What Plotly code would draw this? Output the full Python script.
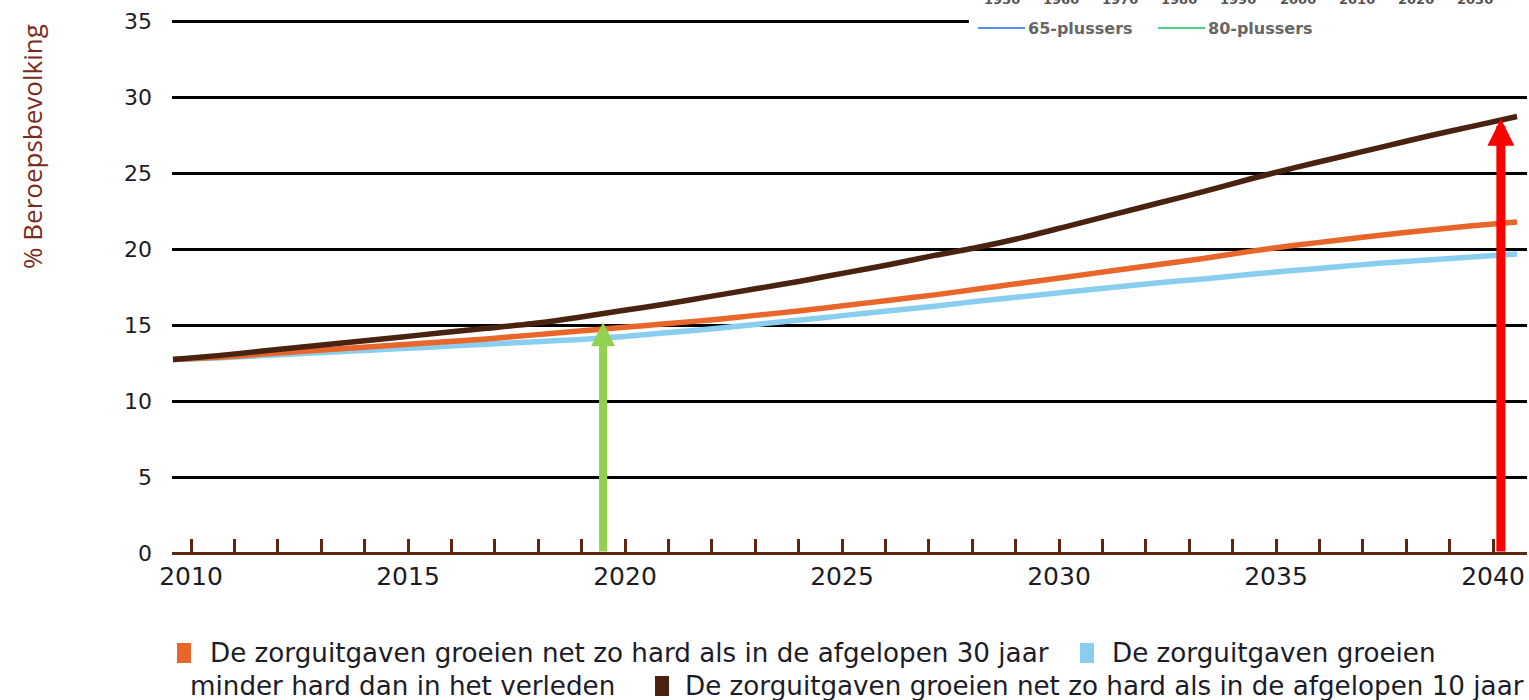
import plotly.graph_objects as go

# ---- data -------------------------------------------------------------
YEARS = list(range(2010, 2041))

# % of the working population, three growth scenarios for care spending
GROWTH_30Y = [12.75, 12.9, 13.1, 13.3, 13.5, 13.7, 13.9, 14.1, 14.35, 14.6,
              14.85, 15.1, 15.35, 15.65, 15.95, 16.3, 16.65, 17.0, 17.4, 17.8,
              18.2, 18.6, 19.0, 19.4, 19.85, 20.25, 20.6, 20.95, 21.25, 21.55,
              21.8]
GROWTH_LOWER = [12.75, 12.85, 13.0, 13.15, 13.3, 13.45, 13.6, 13.75, 13.9, 14.05,
                14.25, 14.5, 14.75, 15.05, 15.35, 15.65, 15.95, 16.25, 16.6, 16.9,
                17.2, 17.5, 17.8, 18.05, 18.35, 18.6, 18.85, 19.1, 19.3, 19.5,
                19.7]
GROWTH_10Y = [12.75, 13.0, 13.3, 13.6, 13.9, 14.2, 14.5, 14.8, 15.1, 15.5,
              15.95, 16.4, 16.9, 17.4, 17.9, 18.45, 19.0, 19.6, 20.15, 20.8,
              21.55, 22.3, 23.05, 23.8, 24.6, 25.35, 26.05, 26.75, 27.45, 28.1,
              28.75]

SERIES_NAMES = [
    "De zorguitgaven groeien net zo hard als in de afgelopen 30 jaar",
    "De zorguitgaven groeien minder hard dan in het verleden",
    "De zorguitgaven groeien net zo hard als in de afgelopen 10 jaar",
]

Y_TICKS = [0, 5, 10, 15, 20, 25, 30, 35]
X_LABEL_YEARS = [2010, 2015, 2020, 2025, 2030, 2035, 2040]

# arrows: (year, value at the tip)
ARROW_YEARS = [2019.6, 2039.64]
ARROW_TOPS = [15.2, 28.6]

# small inset legend strip in the top-right corner
INSET_DECADES = [1950, 1960, 1970, 1980, 1990, 2000, 2010, 2020, 2030]
INSET_NAMES = ["65-plussers", "80-plussers"]

# ---- styling ------------------------------------------------------------
ORANGE = "#E8662A"
BLUE = "#8ACEEF"
BROWN = "#4A2210"
AXIS_BROWN = "#5E2714"
GREEN_ARROW = "#92D050"
RED_ARROW = "#FF0000"
TEXT = "#1c1c28"

W, H = 1529, 700
ML, MR, MT, MB = 172, 2, 14, 147
PW, PH = W - ML - MR, H - MT - MB


def px_x(px):
    return (px - ML) / PW


def px_y(py):
    return (H - MB - py) / PH


fig = go.Figure()

for vals, color in [(GROWTH_LOWER, BLUE), (GROWTH_30Y, ORANGE), (GROWTH_10Y, BROWN)]:
    fig.add_trace(go.Scatter(
        x=YEARS, y=vals, mode="lines",
        line=dict(color=color, width=5.5, shape="spline", smoothing=0.6),
        showlegend=False, hoverinfo="skip",
    ))

# vertical arrows from the baseline up to the curves
for yr, top, col, wd in zip(ARROW_YEARS, ARROW_TOPS, [GREEN_ARROW, RED_ARROW], [8, 9]):
    fig.add_annotation(
        x=yr, y=top, ax=yr, ay=0, xref="x", yref="y", axref="x", ayref="y",
        text="", showarrow=True, arrowhead=2, arrowsize=0.6, arrowwidth=wd,
        arrowcolor=col, standoff=0, startstandoff=0,
    )

# y-axis title
fig.add_annotation(
    text="% Beroepsbevolking", textangle=-90, xref="paper", yref="paper",
    x=px_x(32), y=px_y(147), xanchor="center", yanchor="middle",
    showarrow=False, font=dict(family="Open Sans", size=26, color="#7B2B1E"),
)

# mask over the top-right corner (inset strip)
fig.add_shape(type="rect", xref="paper", yref="paper",
              x0=px_x(969), x1=px_x(W + 5), y0=px_y(42), y1=px_y(-5),
              fillcolor="white", line=dict(width=0), layer="above")

for i, dec in enumerate(INSET_DECADES):
    fig.add_annotation(
        text=f"<b>{dec}</b>", xref="paper", yref="paper",
        x=px_x(1002 + i * 59.1), y=px_y(-1), xanchor="center", yanchor="middle",
        showarrow=False, font=dict(family="DejaVu Sans", size=13, color="#555555"),
    )

for name, col, x0, x1 in [(INSET_NAMES[0], "#5B8DEF", 978, 1025),
                          (INSET_NAMES[1], "#4CD18A", 1158, 1205)]:
    fig.add_shape(type="line", xref="paper", yref="paper",
                  x0=px_x(x0), x1=px_x(x1), y0=px_y(28), y1=px_y(28),
                  line=dict(color=col, width=2), layer="above")
    fig.add_annotation(
        text=f"<b>{name}</b>", xref="paper", yref="paper",
        x=px_x(x1 + 1), y=px_y(28), xanchor="left", yanchor="middle",
        showarrow=False, font=dict(family="DejaVu Sans", size=16, color="#666666"),
    )

# legend below the chart (wrapped like running text)
LEG_FONT = dict(family="DejaVu Sans", size=26.2, color=TEXT)
legend_pieces = [
    # (square colour, square x, text, text x, line y)
    (ORANGE, 177, SERIES_NAMES[0], 208, 653),
    (BLUE, 1080, "De zorguitgaven groeien", 1110, 653),
    (None, None, "minder hard dan in het verleden", 188, 686),
    (BROWN, 655, SERIES_NAMES[2], 683, 686),
]
for sq_col, sq_x, txt, tx, ly in legend_pieces:
    if sq_col:
        fig.add_shape(type="rect", xref="paper", yref="paper",
                      x0=px_x(sq_x), x1=px_x(sq_x + 14),
                      y0=px_y(ly + 10), y1=px_y(ly - 10),
                      fillcolor=sq_col, line=dict(width=0))
    fig.add_annotation(
        text=txt, xref="paper", yref="paper", x=px_x(tx), y=px_y(ly),
        xanchor="left", yanchor="middle", showarrow=False, font=LEG_FONT,
    )

# tick axis: one tick per year, labels every five years
tick_px0, tick_px_per_year = 191, 43.4
x2_start = 2010 - (tick_px0 - ML) / tick_px_per_year
x2_end = x2_start + PW / tick_px_per_year

# data axis: lines run from the left edge to just before the right edge
data_px0, data_px1 = 173, 1517
d_per_px = (2040 - 2010) / (data_px1 - data_px0)
x_start = 2010 - (data_px0 - ML) * d_per_px
x_end = x_start + PW * d_per_px

fig.update_layout(
    width=W, height=H,
    margin=dict(l=ML, r=MR, t=MT, b=MB, pad=0),
    paper_bgcolor="white", plot_bgcolor="white",
    showlegend=False,
    xaxis=dict(range=[x_start, x_end], visible=False, showgrid=False, zeroline=False),
    xaxis2=dict(
        range=[x2_start, x2_end], overlaying="x", anchor="y", side="bottom",
        tickvals=YEARS,
        ticktext=[str(y) if y in X_LABEL_YEARS else "" for y in YEARS],
        ticks="inside", ticklen=14, tickwidth=2.5, tickcolor=AXIS_BROWN,
        showgrid=False, zeroline=False, showline=False,
        tickfont=dict(family="DejaVu Sans", size=25, color=TEXT),
        ticklabelstandoff=6,
    ),
    yaxis=dict(
        range=[0, 35.5], tickvals=Y_TICKS, ticktext=[str(v) for v in Y_TICKS],
        showgrid=True, gridcolor="black", gridwidth=3,
        zeroline=True, zerolinecolor=AXIS_BROWN, zerolinewidth=3,
        showline=False, ticks="",
        tickfont=dict(family="DejaVu Sans", size=22, color=TEXT),
        ticklabelstandoff=19,
    ),
)

# keep an (invisible) handle on the tick axis so it is laid out
fig.add_trace(go.Scatter(x=[x2_start], y=[None], xaxis="x2", yaxis="y",
                         mode="lines", showlegend=False, hoverinfo="skip"))

fig.write_html("out.html")
